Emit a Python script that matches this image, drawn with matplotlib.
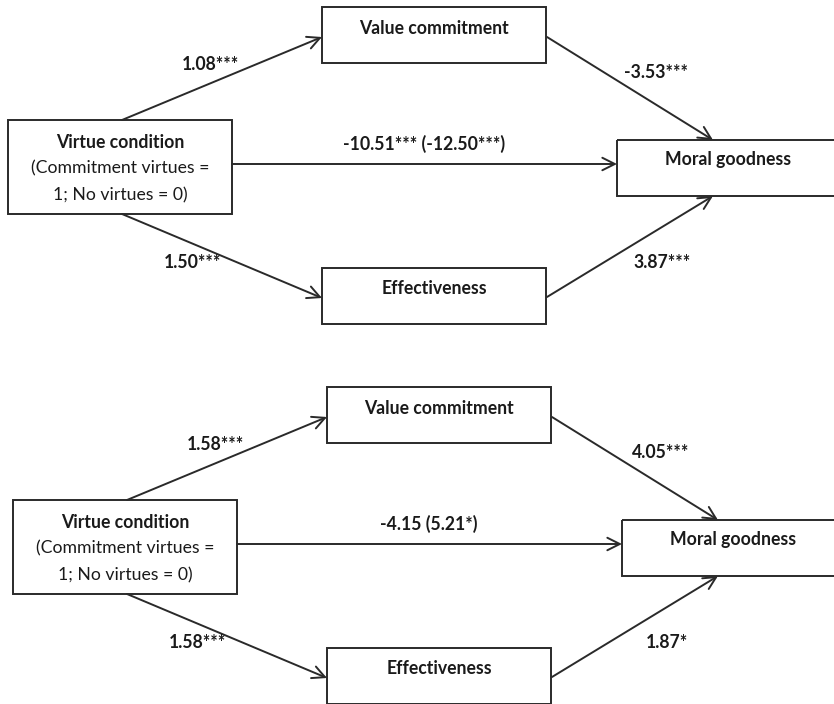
import matplotlib
matplotlib.use('Agg')
import matplotlib.pyplot as plt
from matplotlib.patches import Rectangle

# Coeficientes de cada modelo de mediación (arriba y abajo)
paneles = ['top', 'bottom']
coef_a_vc = ['1.08***', '1.58***']        # Virtue -> Value commitment
coef_a_ef = ['1.50***', '1.58***']        # Virtue -> Effectiveness
coef_b_vc = ['-3.53***', '4.05***']       # Value commitment -> Moral goodness
coef_b_ef = ['3.87***', '1.87*']          # Effectiveness -> Moral goodness
coef_c = ['-10.51*** (-12.50***)', '-4.15 (5.21*)']  # efecto directo (total)

# Geometría de cada panel en píxeles: desplazamiento (dx, dy)
desplaz = {'top': (0, 0), 'bottom': (5, 380)}

plt.rcParams['font.family'] = ['Lato', 'DejaVu Sans']
COLOR_TXT = '#1a1a1a'
COLOR_LIN = '#2a2a2a'

fig = plt.figure(figsize=(8.34, 7.04), dpi=100)
ax = fig.add_axes([0, 0, 1, 1])
ax.set_xlim(0, 834)
ax.set_ylim(704, 0)
ax.axis('off')


def caja(x0, y0, x1, y1):
    ax.add_patch(Rectangle((x0, y0), x1 - x0, y1 - y0, fill=False,
                           edgecolor=COLOR_LIN, linewidth=1.4, clip_on=True))


def flecha(p0, p1):
    ax.annotate('', xy=p1, xytext=p0,
                arrowprops=dict(arrowstyle='->,head_length=0.9,head_width=0.45',
                                color=COLOR_LIN, lw=1.4,
                                shrinkA=0, shrinkB=0))


def texto(x, y, s, bold=True, size=12.7):
    ax.text(x, y, s, ha='center', va='center', fontsize=size,
            fontweight='bold' if bold else 'normal', color=COLOR_TXT)


for i, p in enumerate(paneles):
    dx, dy = desplaz[p]

    # cajas
    caja(8 + dx, 120 + dy, 232 + dx, 214 + dy)      # Virtue condition
    caja(322 + dx, 7 + dy, 546 + dx, 63 + dy)       # Value commitment
    caja(322 + dx, 268 + dy, 546 + dx, 324 + dy)    # Effectiveness
    caja(617 + dx, 140 + dy, 840, 196 + dy)         # Moral goodness

    texto(120 + dx, 142 + dy, 'Virtue condition')
    texto(120 + dx, 168 + dy, '(Commitment virtues =', bold=False)
    texto(120 + dx, 195 + dy, '1; No virtues = 0)', bold=False)
    texto(434 + dx, 28 + dy, 'Value commitment')
    texto(434 + dx, 288 + dy, 'Effectiveness')
    texto(728 + dx, 160 + dy, 'Moral goodness')

    # caminos
    flecha((122 + dx, 120 + dy), (322 + dx, 37 + dy))
    flecha((122 + dx, 214 + dy), (322 + dx, 298 + dy))
    flecha((232 + dx, 164 + dy), (617 + dx, 164 + dy))
    flecha((547 + dx, 37 + dy), (713 + dx, 140 + dy))
    flecha((547 + dx, 297 + dy), (713 + dx, 196 + dy))

    # coeficientes
    texto(210 + dx, 65 + dy, coef_a_vc[i])
    texto(192 + dx, 262 + dy, coef_a_ef[i])
    texto(424 + dx, 144 + dy, coef_c[i])
    texto(656 + dx, 72 + dy, coef_b_vc[i])
    texto(662 + dx, 262 + dy, coef_b_ef[i])

fig.savefig('out.png', dpi=100, facecolor='white')
